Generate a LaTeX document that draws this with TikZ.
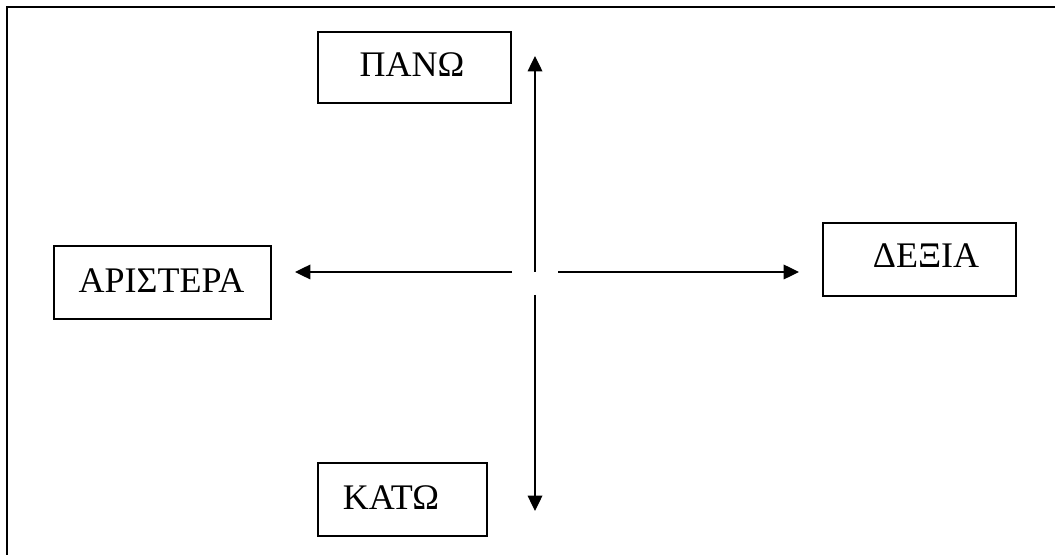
\documentclass[tikz,border=0pt]{standalone}
\usepackage{fontspec}
\setmainfont{Liberation Serif}
\usetikzlibrary{arrows.meta}
\begin{document}
\begin{tikzpicture}[x=0.75pt,y=-0.75pt,
  box/.style={draw,line width=0.8pt,inner sep=0pt},
  txt/.style={anchor=base,inner sep=0pt,font=\fontsize{27pt}{30pt}\selectfont},
  arr/.style={line width=0.95pt,-{Triangle[length=11.5pt,width=11pt]}},
  frame/.style={line width=1.1pt}]
\useasboundingbox (0,0) rectangle (1055,555);
% outer frame (only top and left visible)
\coordinate (ftr) at (1055,7);
\coordinate (ftl) at (7,7);
\coordinate (fbl) at (7,555);
\draw[frame] (ftr) -- (ftl) -- (fbl);
% boxes
\node[box,minimum width=193*0.75pt,minimum height=71*0.75pt] (upbox) at (414.5,67.5) {};
\node[txt] (uptxt) at (412,77) {ΠΑΝΩ};
\node[box,minimum width=217*0.75pt,minimum height=73*0.75pt] (leftbox) at (162.5,282.5) {};
\node[txt] (lefttxt) at (161.5,293) {ΑΡΙΣΤΕΡΑ};
\node[box,minimum width=193*0.75pt,minimum height=73*0.75pt] (rightbox) at (919.5,259.5) {};
\node[txt] (righttxt) at (926,268) {ΔΕΞΙΑ};
\node[box,minimum width=169*0.75pt,minimum height=73*0.75pt] (downbox) at (402.5,499.5) {};
\node[txt] (downtxt) at (391,509) {ΚΑΤΩ};
% arrows
\coordinate (cu) at (535,272);
\coordinate (tu) at (535,56);
\coordinate (cd) at (535,295);
\coordinate (td) at (535,511);
\coordinate (cl) at (512,272);
\coordinate (tl) at (295,272);
\coordinate (cr) at (558,272);
\coordinate (tr) at (799,272);
\draw[arr] (cu) -- (tu);
\draw[arr] (cd) -- (td);
\draw[arr] (cl) -- (tl);
\draw[arr] (cr) -- (tr);
\end{tikzpicture}
\end{document}
